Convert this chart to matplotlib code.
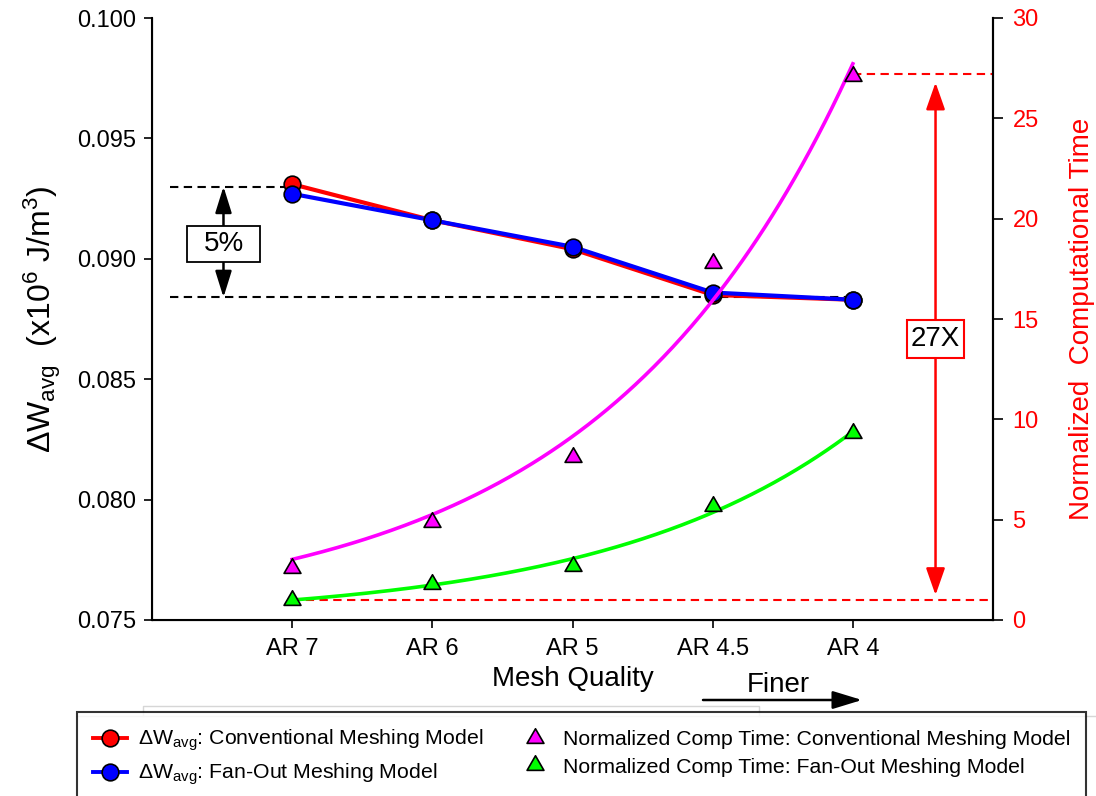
import numpy as np
import matplotlib
matplotlib.use("Agg")
import matplotlib.pyplot as plt
from matplotlib.path import Path
from matplotlib.lines import Line2D
from matplotlib.patches import Rectangle, FancyArrowPatch

plt.rcParams['font.family'] = ['Liberation Sans', 'DejaVu Sans']
plt.rcParams['mathtext.fontset'] = 'custom'
plt.rcParams['mathtext.rm'] = 'Liberation Sans'
plt.rcParams['mathtext.it'] = 'Liberation Sans:italic'
plt.rcParams['mathtext.bf'] = 'Liberation Sans:bold'

# ---- data -------------------------------------------------------------
mesh_labels = ['AR 7', 'AR 6', 'AR 5', 'AR 4.5', 'AR 4']
dw_conventional = [0.0931, 0.0916, 0.0904, 0.0885, 0.0883]
dw_fanout = [0.0927, 0.0916, 0.0905, 0.0886, 0.0883]
time_conventional = [2.6, 4.9, 8.1, 17.8, 27.1]
time_fanout = [1.0, 1.8, 2.7, 5.7, 9.3]
dw_ref_high = 0.0930
dw_ref_low = 0.0884
time_ref_high = 27.2
time_ref_low = 1.0

x = np.arange(1, len(mesh_labels) + 1)


def exp_fit(xv, yv, iters=80):
    """Least-squares fit of y = a * exp(b * x)."""
    xv = np.asarray(xv, float)
    yv = np.asarray(yv, float)
    b, lna = np.polyfit(xv, np.log(yv), 1)
    a = np.exp(lna)
    for _ in range(iters):
        e = np.exp(b * xv)
        r = yv - a * e
        J = np.column_stack([e, a * xv * e])
        step, *_ = np.linalg.lstsq(J, r, rcond=None)
        a += step[0]
        b += step[1]
    return a, b


# equilateral triangle centred on its centroid
tri = Path([(0, 1), (-0.866, -0.5), (0.866, -0.5), (0, 1)],
           [Path.MOVETO, Path.LINETO, Path.LINETO, Path.CLOSEPOLY])

RED, BLUE, MAG, GRN = '#ff0000', '#0000ff', '#ff00ff', '#00ff00'

fig = plt.figure(figsize=(10.96, 7.96), dpi=100)
W, H = 1096, 796
L, R, T, B = 152, 993, 18, 620
ax = fig.add_axes([L / W, 1 - B / H, (R - L) / W, (B - T) / H])

# ---- left axis: Delta W ------------------------------------------------
ax.plot(x, dw_conventional, color=RED, lw=3, marker='o', ms=12,
        mfc=RED, mec='black', mew=1.2, zorder=3)
ax.plot(x, dw_fanout, color=BLUE, lw=3, marker='o', ms=12,
        mfc=BLUE, mec='black', mew=1.2, zorder=4)

dash = (0, (4, 2.6))
ax.plot([0.13, x[0]], [dw_ref_high] * 2, color='black', lw=1.5, ls=dash, zorder=2)
ax.plot([0.13, x[-1]], [dw_ref_low] * 2, color='black', lw=1.5, ls=dash, zorder=2)

ax.annotate('', xy=(0.51, dw_ref_high), xytext=(0.51, dw_ref_low),
            arrowprops=dict(arrowstyle='<|-|>,head_length=1.6,head_width=0.5',
                            mutation_scale=10, color='black', lw=1.8,
                            shrinkA=0, shrinkB=0), zorder=5)
ax.add_patch(Rectangle((0.25, 0.08987), 0.52, 0.00149, fc='white',
                       ec='black', lw=1.3, zorder=6))
ax.text(0.51, 0.09061, '5%', ha='center', va='center', fontsize=20, zorder=7)

ax.set_xlim(0, 6)
ax.set_ylim(0.075, 0.100)
ax.set_yticks(np.arange(0.075, 0.1001, 0.005))
ax.set_yticklabels([f'{v:.3f}' for v in np.arange(0.075, 0.1001, 0.005)])
ax.set_xticks(x)
ax.set_xticklabels(mesh_labels)
ax.tick_params(axis='y', direction='out', length=5.5, width=1.2, pad=6,
               labelsize=17)
ax.tick_params(axis='x', direction='out', length=6, width=1.2, pad=7,
               labelsize=17)
ax.spines['top'].set_visible(False)
for s in ('left', 'bottom', 'right'):
    ax.spines[s].set_linewidth(1.5)
ax.set_xlabel('Mesh Quality', fontsize=20, labelpad=4)
ax.set_ylabel(r'$\Delta$W$_{\rm avg}$  (x10$^6$ J/m$^3$)', fontsize=23,
              labelpad=10)

# ---- right axis: normalized computational time ------------------------
ax2 = ax.twinx()
ax2.set_ylim(0, 30)
ax2.set_yticks(np.arange(0, 31, 5))
ax2.tick_params(axis='y', direction='out', length=7, width=1.2, pad=7,
                labelsize=17, colors='black')
ax2.tick_params(axis='y', labelcolor=RED)
ax2.spines['top'].set_visible(False)
ax2.spines['right'].set_linewidth(1.5)
ax2.set_ylabel('Normalized  Computational Time', color=RED, fontsize=20,
               labelpad=22)

xf = np.linspace(x[0], x[-1], 300)
a_c, b_c = exp_fit(x, time_conventional)
a_f, b_f = exp_fit(x, time_fanout)
ax2.plot(xf, a_c * np.exp(b_c * xf), color=MAG, lw=2.6, zorder=3)
ax2.plot(xf, a_f * np.exp(b_f * xf), color=GRN, lw=2.6, zorder=3)
ax2.plot(x, time_conventional, ls='none', marker=tri, ms=14, mfc=MAG,
         mec='black', mew=1.2, zorder=4)
ax2.plot(x, time_fanout, ls='none', marker=tri, ms=14, mfc=GRN,
         mec='black', mew=1.2, zorder=4)

ax2.plot([x[-1], 6], [time_ref_high] * 2, color=RED, lw=1.5, ls=dash, zorder=2)
ax2.plot([x[0], 6], [time_ref_low] * 2, color=RED, lw=1.5, ls=dash, zorder=2)
ax2.annotate('', xy=(5.59, time_ref_high), xytext=(5.59, time_ref_low),
             arrowprops=dict(arrowstyle='<|-|>,head_length=1.65,head_width=0.58',
                             mutation_scale=10, color=RED, lw=1.8,
                             shrinkA=3.5, shrinkB=6), zorder=5)
ax2.add_patch(Rectangle((5.386, 13.05), 0.407, 1.9, fc='white', ec=RED,
                        lw=1.5, zorder=6))
ax2.text(5.59, 14.0, '27X', ha='center', va='center', fontsize=20, zorder=7)

# ---- "Finer" arrow under the axis ---------------------------------------
fig.patches.append(FancyArrowPatch(
    (703 / W, 1 - 700 / H), (862 / W, 1 - 700 / H), transform=fig.transFigure,
    arrowstyle='-|>,head_length=1.8,head_width=0.55', mutation_scale=10,
    color='black', lw=1.8, shrinkA=0, shrinkB=0))
fig.text(778 / W, 1 - 685 / H, 'Finer', ha='center', va='center', fontsize=20)

# faint frame lines around the axis title area
gray = '#d6d6d6'
fig.lines.append(Line2D([143 / W, 143 / W, 759 / W, 759 / W],
                        [1 - 716 / H, 1 - 706 / H, 1 - 706 / H, 1 - 716 / H],
                        transform=fig.transFigure, color=gray, lw=1))
fig.lines.append(Line2D([77 / W, 1096 / W], [1 - 716 / H, 1 - 716 / H],
                        transform=fig.transFigure, color=gray, lw=1))

# ---- legend -------------------------------------------------------------
handles = [
    Line2D([], [], color=RED, lw=2.8, marker='o', ms=12, mfc=RED, mec='black', mew=1.2),
    Line2D([], [], color=BLUE, lw=2.8, marker='o', ms=12, mfc=BLUE, mec='black', mew=1.2),
    Line2D([], [], ls='none', marker=tri, ms=14, mfc=MAG, mec='black', mew=1.2),
    Line2D([], [], ls='none', marker=tri, ms=14, mfc=GRN, mec='black', mew=1.2),
]
labels = [
    r'$\Delta$W$_{\rm avg}$: Conventional Meshing Model',
    r'$\Delta$W$_{\rm avg}$: Fan-Out Meshing Model',
    'Normalized Comp Time: Conventional Meshing Model',
    'Normalized Comp Time: Fan-Out Meshing Model',
]
leg = fig.legend(handles, labels, ncol=2, loc='upper left',
                 bbox_to_anchor=(77 / W, 1 - 712 / H), borderaxespad=0,
                 fontsize=15.3, frameon=True, fancybox=False, edgecolor='black',
                 handlelength=1.6, handletextpad=0.5, columnspacing=1.65,
                 labelspacing=0.4, borderpad=0.75)
leg.get_frame().set_linewidth(1.5)

fig.savefig('out.png', dpi=100)
